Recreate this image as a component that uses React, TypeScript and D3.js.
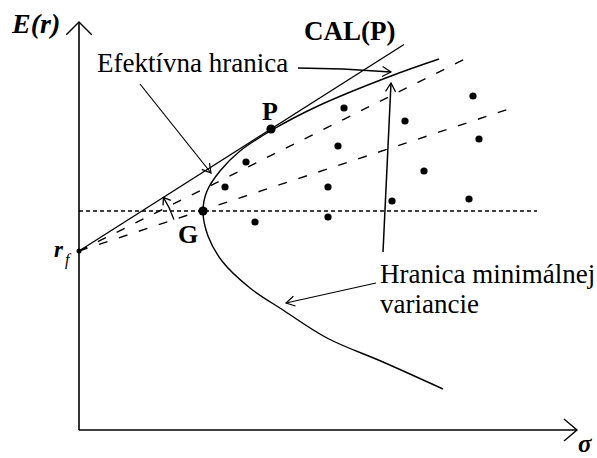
import React from "react";
import * as d3 from "d3";

// ---- Data (sigma = risk, E(r) = expected return, arbitrary units) ----
const frontierSigma = [36.0, 31.2, 23.9, 19.3, 16.1, 14.1, 12.8, 12.4, 12.9, 14.3, 17.1, 20.4, 24.8, 30.4, 36.4];
const frontierReturn = [37.1, 35.4, 32.4, 30.0, 27.9, 25.9, 23.9, 21.9, 19.4, 16.9, 14.2, 12.0, 9.2, 6.8, 4.1];

const assetSigma = [16.7, 14.6, 17.6, 26.5, 32.6, 25.9, 24.9, 24.9, 31.3, 39.4, 40.0, 34.5, 39.0];
const assetReturn = [26.8, 24.3, 20.8, 32.2, 30.9, 28.4, 24.3, 21.3, 22.9, 33.4, 29.1, 25.9, 23.1];

const riskFree = 17.9;
const pointP = { sigma: 19.2, ret: 30.1, label: "P" };
const pointG = { sigma: 12.4, ret: 21.9, label: "G" };
const calEndSigma = 32.5;
const dashedEndSigma = [39.4, 43.6];
const dashedEndReturn = [37.5, 32.3];
const dottedEndSigma = 45.8;

const labels = {
  yAxis: "E(r)",
  xAxis: "σ",
  cal: "CAL(P)",
  efficient: "Efektívna hranica",
  minVar1: "Hranica minimálnej",
  minVar2: "variancie",
};

const W = 597;
const H = 458;

function head(tx: number, ty: number, dx: number, dy: number, len = 10, deg = 30) {
  const n = Math.hypot(dx, dy);
  const ux = dx / n, uy = dy / n;
  const a = (deg * Math.PI) / 180;
  const rot = (s: number) => {
    const c = Math.cos(s * a), si = Math.sin(s * a);
    return [ux * c - uy * si, ux * si + uy * c];
  };
  const [ax, ay] = rot(1);
  const [bx, by] = rot(-1);
  return `M${tx - len * ax},${ty - len * ay}L${tx},${ty}L${tx - len * bx},${ty - len * by}`;
}

const serif = '"Liberation Serif", "DejaVu Serif", "Times New Roman", Times, serif';

export default function App() {
  const x = d3.scaleLinear().domain([0, 50]).range([79, 579]);
  const y = d3.scaleLinear().domain([0, 40.8]).range([430, 22]);

  const pts: [number, number][] = frontierSigma.map((s, i) => [s, frontierReturn[i]]);
  const line = d3
    .line<[number, number]>()
    .x((d) => x(d[0]))
    .y((d) => y(d[1]))
    .curve(d3.curveCatmullRom.alpha(0.5));

  const calSlope = (pointP.ret - riskFree) / pointP.sigma;
  const rfX = x(0), rfY = y(riskFree);

  // arc arrow around rf, from dashed line 2 to CAL
  const R = 100;
  const ang2 = Math.atan2(y(dashedEndReturn[1]) - rfY, x(dashedEndSigma[1]) - rfX);
  const angC = Math.atan2(y(riskFree + calSlope * 10) - rfY, x(10) - rfX);
  const a1x = rfX + R * Math.cos(ang2), a1y = rfY + R * Math.sin(ang2);
  const a2x = rfX + R * Math.cos(angC), a2y = rfY + R * Math.sin(angC);
  const tdx = Math.sin(angC), tdy = -Math.cos(angC);

  const stroke = "#000";
  const ts = { fontFamily: serif };

  return (
    <svg
      width={W}
      height={H}
      style={{ position: "absolute", left: 0, top: 0, background: "#fff" }}
    >
      {/* axes */}
      <line x1={x(0)} y1={y(0)} x2={x(0)} y2={y(40.8)} stroke={stroke} strokeWidth={1.6} />
      <line x1={x(0)} y1={y(0)} x2={x(49.8)} y2={y(0)} stroke={stroke} strokeWidth={1.6} />
      <path d={head(x(0), y(40.8), 0, -1, 18, 45)} fill="none" stroke={stroke} strokeWidth={1.4} />
      <path d={head(x(49.8), y(0), 1, 0, 17, 40)} fill="none" stroke={stroke} strokeWidth={1.4} />

      {/* dotted horizontal through G */}
      <line
        x1={x(0)}
        y1={y(pointG.ret)}
        x2={x(dottedEndSigma)}
        y2={y(pointG.ret)}
        stroke={stroke}
        strokeWidth={1.5}
        strokeDasharray="4,3"
      />

      {/* dashed capital allocation lines */}
      {dashedEndSigma.map((s, i) => (
        <line
          key={i}
          x1={rfX}
          y1={rfY}
          x2={x(s)}
          y2={y(dashedEndReturn[i])}
          stroke={stroke}
          strokeWidth={1.4}
          strokeDasharray="9,12"
        />
      ))}

      {/* CAL(P) */}
      <line
        x1={rfX}
        y1={rfY}
        x2={x(calEndSigma)}
        y2={y(riskFree + calSlope * calEndSigma)}
        stroke={stroke}
        strokeWidth={1.3}
      />

      {/* frontier */}
      <path d={line(pts) || ""} fill="none" stroke={stroke} strokeWidth={1.4} />

      {/* assets */}
      {assetSigma.map((s, i) => (
        <circle key={i} cx={x(s)} cy={y(assetReturn[i])} r={3.6} fill={stroke} />
      ))}
      <circle cx={x(pointP.sigma)} cy={y(pointP.ret)} r={4.6} fill={stroke} />
      <circle cx={x(pointG.sigma)} cy={y(pointG.ret)} r={4.6} fill={stroke} />
      <circle cx={rfX} cy={rfY} r={2.5} fill={stroke} />

      {/* arc arrow */}
      <path
        d={`M${a1x},${a1y}A${R},${R} 0 0 0 ${a2x},${a2y}`}
        fill="none"
        stroke={stroke}
        strokeWidth={1.3}
      />
      <path d={head(a2x, a2y, tdx, tdy, 8, 35)} fill="none" stroke={stroke} strokeWidth={1.3} />

      {/* annotation pointers */}
      <line x1={140} y1={84} x2={211} y2={173} stroke={stroke} strokeWidth={1.2} />
      <path d={head(211, 173, 71, 89, 10, 30)} fill="none" stroke={stroke} strokeWidth={1.2} />

      <polyline points="298,68 343,69 391,72" fill="none" stroke={stroke} strokeWidth={1.3} />
      <path d={head(391, 72, 48, 3, 10, 30)} fill="none" stroke={stroke} strokeWidth={1.2} />

      <line x1={383} y1={252} x2={391} y2={83} stroke={stroke} strokeWidth={1.5} />
      <path d={head(391, 83, 8, -169, 10, 30)} fill="none" stroke={stroke} strokeWidth={1.2} />

      <line x1={376} y1={283} x2={286} y2={303} stroke={stroke} strokeWidth={1.2} />
      <path d={head(286, 303, -90, 20, 10, 30)} fill="none" stroke={stroke} strokeWidth={1.2} />

      {/* texts */}
      <text x={12} y={33} fontSize={28} fontWeight="bold" fontStyle="italic" style={ts}>
        {labels.yAxis}
      </text>
      <text x={578} y={452} fontSize={25} fontWeight="bold" fontStyle="italic" style={ts}>
        {labels.xAxis}
      </text>
      <text x={304} y={40} fontSize={27} fontWeight="bold" style={ts}>
        {labels.cal}
      </text>
      <text x={97} y={72} fontSize={27} style={ts}>
        {labels.efficient}
      </text>
      <text x={262} y={120} fontSize={26} fontWeight="bold" style={ts}>
        {pointP.label}
      </text>
      <text x={178} y={243} fontSize={26} fontWeight="bold" style={ts}>
        {pointG.label}
      </text>
      <text x={54} y={257} fontSize={23} fontWeight="bold" fontStyle="italic" style={ts}>
        r
      </text>
      <text x={65} y={265} fontSize={16} fontStyle="italic" style={ts}>
        f
      </text>
      <text x={380} y={283} fontSize={27} style={ts}>
        {labels.minVar1}
      </text>
      <text x={380} y={313} fontSize={27} style={ts}>
        {labels.minVar2}
      </text>
    </svg>
  );
}
